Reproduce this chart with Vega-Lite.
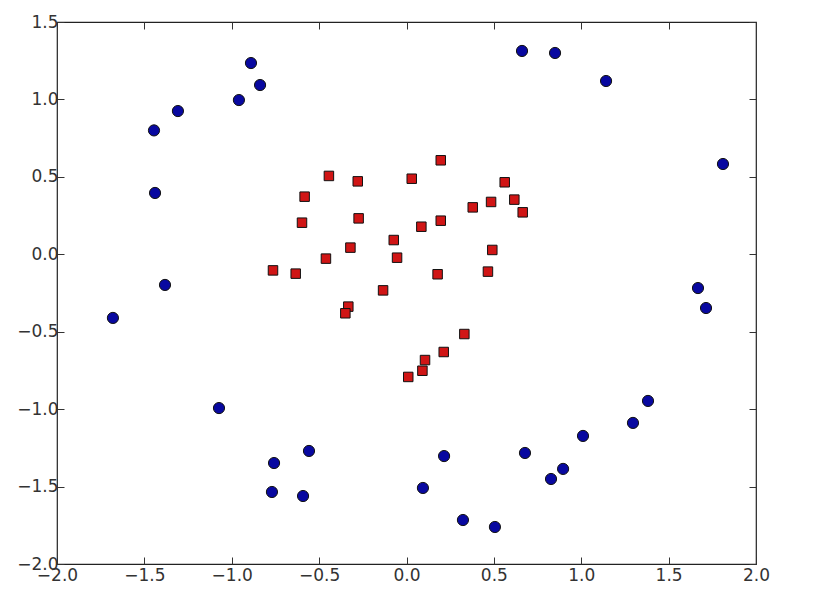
{
  "$schema": "https://vega.github.io/schema/vega-lite/v6.json",
  "width": 699,
  "height": 542,
  "autosize": {"type": "none"},
  "padding": {"left": 57, "top": 22, "right": 61, "bottom": 44},
  "background": "white",
  "config": {
    "view": {"stroke": "#222", "strokeWidth": 1.2},
    "axis": {
      "grid": false,
      "domain": false,
      "tickSize": -7,
      "tickColor": "#333",
      "tickWidth": 1,
      "labelFont": "DejaVu Sans",
      "labelFontSize": 17,
      "labelColor": "#333",
      "title": null
    }
  },
  "data": {
    "values": [
      {"x": -1.445, "y": 0.80, "cls": "outer"},
      {"x": -1.308, "y": 0.925, "cls": "outer"},
      {"x": -0.959, "y": 0.996, "cls": "outer"},
      {"x": -0.89, "y": 1.235, "cls": "outer"},
      {"x": -0.838, "y": 1.093, "cls": "outer"},
      {"x": -1.439, "y": 0.396, "cls": "outer"},
      {"x": -1.382, "y": -0.198, "cls": "outer"},
      {"x": -1.68, "y": -0.411, "cls": "outer"},
      {"x": -1.073, "y": -0.993, "cls": "outer"},
      {"x": -0.758, "y": -1.348, "cls": "outer"},
      {"x": -0.77, "y": -1.535, "cls": "outer"},
      {"x": -0.592, "y": -1.561, "cls": "outer"},
      {"x": -0.558, "y": -1.27, "cls": "outer"},
      {"x": 0.215, "y": -1.303, "cls": "outer"},
      {"x": 0.094, "y": -1.509, "cls": "outer"},
      {"x": 0.323, "y": -1.716, "cls": "outer"},
      {"x": 0.506, "y": -1.761, "cls": "outer"},
      {"x": 0.678, "y": -1.283, "cls": "outer"},
      {"x": 0.827, "y": -1.451, "cls": "outer"},
      {"x": 0.896, "y": -1.386, "cls": "outer"},
      {"x": 1.01, "y": -1.173, "cls": "outer"},
      {"x": 1.296, "y": -1.089, "cls": "outer"},
      {"x": 1.382, "y": -0.947, "cls": "outer"},
      {"x": 1.668, "y": -0.218, "cls": "outer"},
      {"x": 1.714, "y": -0.347, "cls": "outer"},
      {"x": 1.811, "y": 0.583, "cls": "outer"},
      {"x": 1.142, "y": 1.119, "cls": "outer"},
      {"x": 0.85, "y": 1.30, "cls": "outer"},
      {"x": 0.661, "y": 1.313, "cls": "outer"},
      {"x": 0.196, "y": 0.607, "cls": "inner"},
      {"x": -0.444, "y": 0.506, "cls": "inner"},
      {"x": -0.279, "y": 0.471, "cls": "inner"},
      {"x": 0.030, "y": 0.488, "cls": "inner"},
      {"x": 0.562, "y": 0.465, "cls": "inner"},
      {"x": -0.583, "y": 0.372, "cls": "inner"},
      {"x": 0.617, "y": 0.353, "cls": "inner"},
      {"x": 0.484, "y": 0.338, "cls": "inner"},
      {"x": 0.379, "y": 0.303, "cls": "inner"},
      {"x": 0.665, "y": 0.271, "cls": "inner"},
      {"x": -0.598, "y": 0.204, "cls": "inner"},
      {"x": -0.274, "y": 0.232, "cls": "inner"},
      {"x": 0.196, "y": 0.217, "cls": "inner"},
      {"x": 0.085, "y": 0.178, "cls": "inner"},
      {"x": -0.073, "y": 0.092, "cls": "inner"},
      {"x": -0.321, "y": 0.043, "cls": "inner"},
      {"x": 0.491, "y": 0.028, "cls": "inner"},
      {"x": -0.461, "y": -0.028, "cls": "inner"},
      {"x": -0.054, "y": -0.022, "cls": "inner"},
      {"x": -0.634, "y": -0.125, "cls": "inner"},
      {"x": -0.764, "y": -0.104, "cls": "inner"},
      {"x": 0.178, "y": -0.129, "cls": "inner"},
      {"x": 0.466, "y": -0.112, "cls": "inner"},
      {"x": -0.134, "y": -0.233, "cls": "inner"},
      {"x": -0.333, "y": -0.338, "cls": "inner"},
      {"x": -0.350, "y": -0.381, "cls": "inner"},
      {"x": 0.331, "y": -0.515, "cls": "inner"},
      {"x": 0.213, "y": -0.631, "cls": "inner"},
      {"x": 0.106, "y": -0.683, "cls": "inner"},
      {"x": 0.091, "y": -0.752, "cls": "inner"},
      {"x": 0.010, "y": -0.792, "cls": "inner"}
    ]
  },
  "resolve": {"axis": {"x": "independent", "y": "independent"}},
  "layer": [
    {
      "mark": {"type": "point", "filled": true, "stroke": "#111", "strokeWidth": 1, "opacity": 1},
      "encoding": {
        "x": {"field": "x", "type": "quantitative", "scale": {"domain": [-2, 2], "nice": false, "zero": false},
              "axis": {"orient": "bottom", "values": [-2, -1.5, -1, -0.5, 0, 0.5, 1, 1.5, 2], "format": ".1f", "labelPadding": 10, "labelFlush": false}},
        "y": {"field": "y", "type": "quantitative", "scale": {"domain": [-2, 1.5], "nice": false, "zero": false},
              "axis": {"orient": "left", "values": [-2, -1.5, -1, -0.5, 0, 0.5, 1, 1.5], "format": ".1f", "labelPadding": 6, "labelFlush": false}},
        "shape": {"field": "cls", "type": "nominal", "scale": {"domain": ["outer", "inner"], "range": ["circle", "square"]}, "legend": null},
        "color": {"field": "cls", "type": "nominal", "scale": {"domain": ["outer", "inner"], "range": ["#0808a0", "#d01515"]}, "legend": null},
        "size": {"field": "cls", "type": "nominal", "scale": {"domain": ["outer", "inner"], "range": [125, 90]}, "legend": null}
      }
    },
    {
      "mark": {"type": "point", "opacity": 0},
      "encoding": {
        "x": {"field": "x", "type": "quantitative",
              "axis": {"orient": "top", "values": [-2, -1.5, -1, -0.5, 0, 0.5, 1, 1.5, 2], "labels": false}},
        "y": {"field": "y", "type": "quantitative",
              "axis": {"orient": "right", "values": [-2, -1.5, -1, -0.5, 0, 0.5, 1, 1.5], "labels": false}}
      }
    }
  ]
}
